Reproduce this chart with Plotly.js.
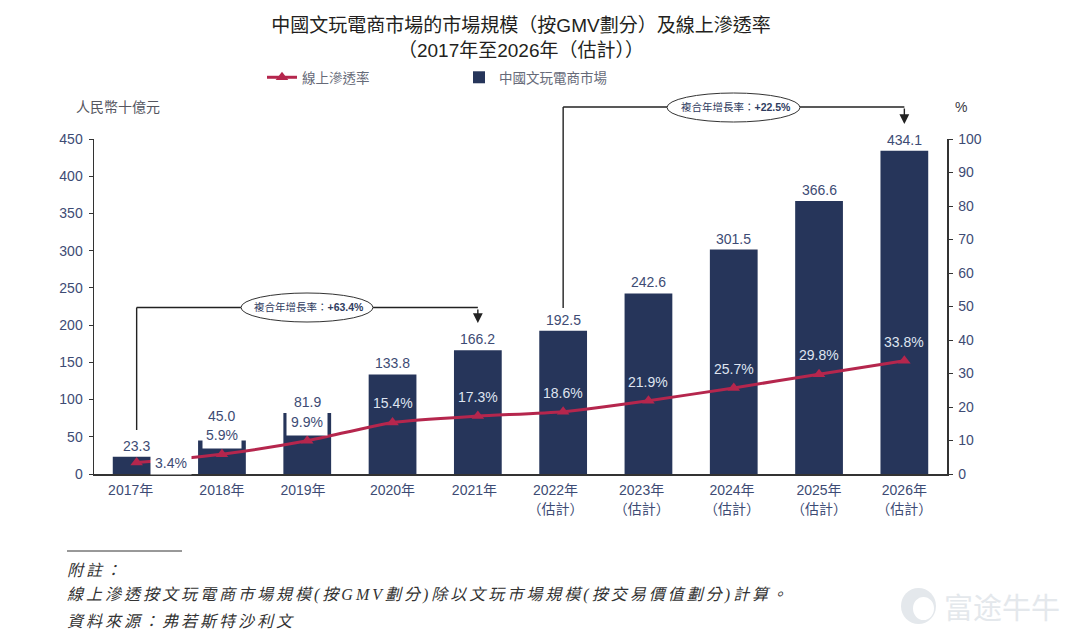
<!DOCTYPE html>
<html><head><meta charset="utf-8">
<script src="https://cdn.plot.ly/plotly-3.0.1.min.js"></script>
<style>html,body{margin:0;padding:0;background:#fff}#c{width:1080px;height:643px}</style>
</head><body><div id="c"></div>
<script>
const years=['2017年','2018年','2019年','2020年','2021年','2022年<br>（估計）','2023年<br>（估計）','2024年<br>（估計）','2025年<br>（估計）','2026年<br>（估計）'];
const market=[23.3,45.0,81.9,133.8,166.2,192.5,242.6,301.5,366.6,434.1];
const penetration=[3.4,5.9,9.9,15.4,17.3,18.6,21.9,25.7,29.8,33.8];
const seriesLine='線上滲透率', seriesBar='中國文玩電商市場';
const titleText='中國文玩電商市場的市場規模（按GMV劃分）及線上滲透率<br>（2017年至2026年（估計））';
const leftTicks=[0,50,100,150,200,250,300,350,400,450];
const rightTicks=[0,10,20,30,40,50,60,70,80,90,100];
const cagrTexts=['複合年增長率：<b>+63.4%</b>','複合年增長率：<b>+22.5%</b>'];
const notes=['附註：','線上滲透按文玩電商市場規模(按GMV劃分)除以文玩市場規模(按交易價值劃分)計算。','資料來源：弗若斯特沙利文'];

const W=1080,H=643,L=94,R=947,T=139,B=474;
const px=x=>(x-L)/(R-L), py=y=>(B-y)/(B-T);
const CJK='Liberation Sans, Arial, "Noto Sans CJK TC", sans-serif';
const BLUE='#3d4b74', NAVY='#26355a', RED='#b5264d';
const fmt=v=>v.toFixed(1);
const idx=years.map((_,i)=>i);
const labelNudge=[-0.07,0,-0.05,0,-0.04,-0.09,-0.08,-0.02,0,0];

const annotations=[];
[[0,34,40,23,0],[1,0,38,28,-20],[2,0,40,28,-20]].forEach(([i,dx,w,h,dy])=>{
  annotations.push({xref:'x',yref:'y2',x:i,y:penetration[i],xshift:dx,yshift:-dy,text:' ',showarrow:false,xanchor:'center',yanchor:'middle',
    width:w,height:h,bgcolor:'#fff',borderpad:0,font:{size:10}});
});
market.forEach((v,i)=>annotations.push({xref:'x',yref:'y',x:i,y:v,xanchor:'center',yanchor:'middle',yshift:i===1?25:11,
  text:fmt(v),showarrow:false,font:{family:CJK,size:14,color:BLUE}}));
penetration.forEach((v,i)=>annotations.push({xref:'x',yref:'y2',x:i,y:v,xanchor:'center',yanchor:'middle',xshift:i===0?34:0,yshift:i===0?0:19,
  text:fmt(v)+'%',showarrow:false,font:{family:CJK,size:14,color:i<3?BLUE:'#dfe4f0'}}));
annotations.push({xref:'paper',yref:'paper',x:px(74),y:py(107),xanchor:'left',yanchor:'middle',text:'人民幣十億元',showarrow:false,font:{family:CJK,size:14,color:'#55565f'}});
annotations.push({xref:'paper',yref:'paper',x:px(961),y:py(107),xanchor:'center',yanchor:'middle',text:'%',showarrow:false,font:{family:CJK,size:14,color:'#3a3a45'}});
annotations.push({xref:'x',yref:'paper',x:4,y:py(323),axref:'pixel',ayref:'pixel',ax:0,ay:-15,text:'',showarrow:true,arrowhead:2,arrowsize:1.4,arrowwidth:1.4,arrowcolor:'#222'});
annotations.push({xref:'x',yref:'paper',x:9,y:py(124),axref:'pixel',ayref:'pixel',ax:0,ay:-17,text:'',showarrow:true,arrowhead:2,arrowsize:1.4,arrowwidth:1.4,arrowcolor:'#222'});
annotations.push({xref:'paper',yref:'paper',x:px(309),y:py(307),xanchor:'center',yanchor:'middle',text:cagrTexts[0],showarrow:false,font:{family:CJK,size:10.5,color:'#2f3c60'}});
annotations.push({xref:'paper',yref:'paper',x:px(736),y:py(107),xanchor:'center',yanchor:'middle',text:cagrTexts[1],showarrow:false,font:{family:CJK,size:10.5,color:'#2f3c60'}});
[[notes[0],570],[notes[1],595],[notes[2],621]].forEach(([t,y])=>annotations.push({xref:'paper',yref:'paper',x:px(66),y:py(y),xanchor:'left',yanchor:'middle',showarrow:false,borderpad:0,
  text:'<span style="letter-spacing:3px;font-style:italic">'+t+'</span>',font:{family:'Liberation Serif, "Noto Sans CJK TC", serif',size:16,color:'#333'}}));
annotations.push({xref:'paper',yref:'paper',x:px(942),y:py(606),xanchor:'left',yanchor:'middle',text:'富途牛牛',showarrow:false,font:{family:'"Noto Sans CJK SC", sans-serif',size:29,color:'#e4e8ec'}});

const lineS={color:'#222',width:1.4};
const shapes=[
 {type:'line',xref:'x',yref:'paper',x0:0,x1:0,y0:py(430),y1:py(307.5),line:lineS},
 {type:'line',xref:'x',yref:'paper',x0:0,x1:4,y0:py(307.5),y1:py(307.5),line:lineS},
 {type:'line',xref:'x',yref:'paper',x0:5,x1:5,y0:py(308),y1:py(107),line:lineS},
 {type:'line',xref:'x',yref:'paper',x0:5,x1:9,y0:py(107),y1:py(107),line:lineS},
 {type:'circle',xref:'paper',yref:'paper',x0:px(241),x1:px(373),y0:py(322),y1:py(293),fillcolor:'#fff',line:{color:'#333',width:1}},
 {type:'circle',xref:'paper',yref:'paper',x0:px(667),x1:px(800),y0:py(122),y1:py(93),fillcolor:'#fff',line:{color:'#333',width:1}},
 {type:'line',xref:'paper',yref:'paper',x0:px(67),x1:px(182),y0:py(551),y1:py(551),line:{color:'#333',width:1}},
 {type:'circle',xref:'paper',yref:'paper',x0:px(901),x1:px(936),y0:py(624),y1:py(588),fillcolor:'#e4e8ec',line:{width:0}},
 {type:'circle',xref:'paper',yref:'paper',x0:px(913),x1:px(934),y0:py(620),y1:py(597),fillcolor:'#fff',line:{width:0}}
];

const data=[
 {type:'scatter',mode:'lines+markers',name:seriesLine,x:idx,y:penetration,yaxis:'y2',
  line:{color:RED,width:3,shape:'spline',smoothing:0.6},marker:{symbol:'triangle-up',size:11,color:RED},hoverinfo:'skip'},
 {type:'bar',name:seriesBar,x:idx,y:market,width:0.56,marker:{color:NAVY},hoverinfo:'skip'}
];
const layout={
 width:W,height:H,paper_bgcolor:'#fff',plot_bgcolor:'#fff',showlegend:true,
 margin:{l:L,r:W-R,t:T,b:H-B,pad:0},
 title:{text:titleText,x:521/W,xanchor:'center',y:1-32/H,yanchor:'top',font:{family:CJK,size:19,color:'#231f20'}},
 legend:{orientation:'h',x:px(262),y:py(62),xanchor:'left',yanchor:'top',itemwidth:30,entrywidth:152,entrywidthmode:'pixels',font:{family:CJK,size:13.5,color:'#666a78'},traceorder:'normal',bgcolor:'rgba(0,0,0,0)'},
 xaxis:{type:'linear',range:[-0.5,9.5],tickmode:'array',tickvals:idx.map(i=>i+labelNudge[i]),ticktext:years,ticks:'',ticklabelstandoff:3,showgrid:false,zeroline:false,showline:true,linecolor:'#333',linewidth:1.5,tickfont:{family:CJK,size:14,color:BLUE},tickangle:0},
 yaxis:{range:[0,450],tickmode:'array',tickvals:leftTicks,ticks:'outside',ticklen:4,tickcolor:'#333',ticklabelstandoff:3,showgrid:false,zeroline:false,showline:true,linecolor:'#333',linewidth:1.5,tickfont:{family:CJK,size:14,color:BLUE}},
 yaxis2:{overlaying:'y',side:'right',range:[0,100],tickmode:'array',tickvals:rightTicks,ticks:'outside',ticklen:4,tickcolor:'#333',ticklabelstandoff:3,showgrid:false,zeroline:false,showline:true,linecolor:'#333',linewidth:1.5,tickfont:{family:CJK,size:14,color:BLUE}},
 annotations,shapes
};
Plotly.newPlot('c',data,layout,{displayModeBar:false,staticPlot:true});
</script></body></html>
